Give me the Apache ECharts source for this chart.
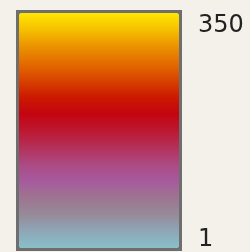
<!DOCTYPE html>
<html>
<head>
<meta charset="utf-8">
<script src="https://cdn.jsdelivr.net/npm/echarts@6/dist/echarts.min.js"></script>
<style>
  html, body { margin: 0; padding: 0; background: #f3f1ea; }
  #colorbar { width: 250px; height: 252px; }
</style>
</head>
<body>
<div id="colorbar"></div>
<script>
// colour scale, bottom (min) to top (max)
var minValue = 1;
var maxValue = 350;
var tickLabels = [1, 350];
var rampColors = [
  '#88c0c8', '#8ea6b8', '#968a98', '#9e7490', '#a65a9e',
  '#ac4a82', '#b4305a', '#bc1830', '#c40410', '#cc1a00',
  '#d84400', '#e46c00', '#eb9200', '#f5c000', '#ffe600'
];

var chartDom = document.getElementById('colorbar');
var myChart = echarts.init(chartDom);
var option;

option = {
  backgroundColor: '#f3f1ea',
  animation: false,
  visualMap: {
    type: 'continuous',
    min: minValue,
    max: maxValue,
    calculable: false,
    hoverLink: false,
    text: null,
    left: 16,
    top: 10,
    padding: 3,
    itemWidth: 160,
    itemHeight: 235,
    backgroundColor: '#6e6e6e',
    borderWidth: 0,
    inRange: {
      color: rampColors
    }
  },
  // axis only used to place the end labels beside the bar
  grid: {
    left: 182,
    top: 25.5,
    width: 1,
    height: 215
  },
  xAxis: {
    type: 'value',
    show: false
  },
  yAxis: {
    type: 'value',
    position: 'right',
    min: minValue,
    max: maxValue,
    axisLine: { show: false },
    axisTick: { show: false },
    splitLine: { show: false },
    axisLabel: {
      margin: 15,
      customValues: tickLabels,
      verticalAlign: 'middle',
      color: '#222',
      fontFamily: 'DejaVu Sans',
      fontSize: 24
    }
  },
  series: []
};

option && myChart.setOption(option);
</script>
</body>
</html>
